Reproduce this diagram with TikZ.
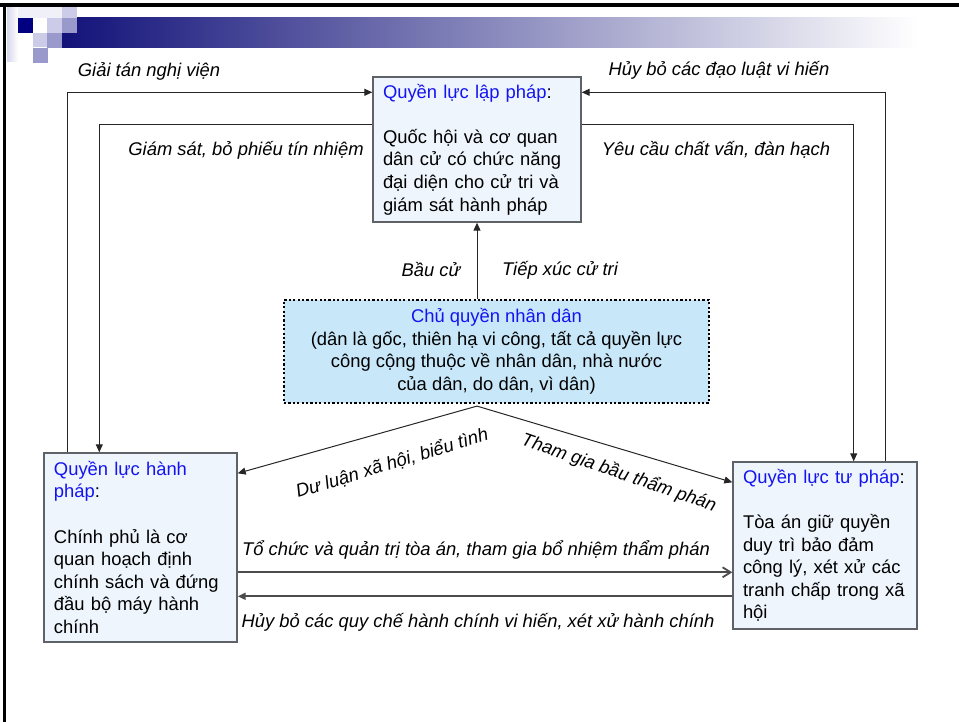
\documentclass[tikz,border=0pt]{standalone}
\usepackage{fontspec}
\setmainfont{Liberation Sans}
\usetikzlibrary{arrows.meta}

\definecolor{boxfill}{HTML}{EEF5FC}
\definecolor{peoplefill}{HTML}{C8E8FA}
\definecolor{boxline}{HTML}{5F6368}
\definecolor{titleblue}{HTML}{1414F0}
\definecolor{barnavy}{HTML}{12127A}
\definecolor{barmid}{HTML}{9696B2}
\definecolor{sqlight}{HTML}{CCCCE8}
\definecolor{sqmid}{HTML}{9999CC}
\definecolor{sqdark}{HTML}{000080}

\tikzstyle{power} = [rectangle, draw=boxline, line width=0.7pt, fill=boxfill, align=left, inner xsep=5pt, inner ysep=2pt, font=\fontsize{9.2}{11.3}\selectfont]
\tikzstyle{people-box} = [rectangle, draw=black, line width=1.1pt, dash pattern=on 1.1pt off 1.1pt, fill=peoplefill, align=center, font=\fontsize{9.2}{11.3}\selectfont]
\tikzstyle{lbl} = [inner sep=0pt, font=\itshape\fontsize{9.2}{11.3}\selectfont]
\tikzstyle{arrow} = [line width=0.5pt, draw=black!85, ->, >={Triangle[length=4pt,width=3.5pt]}]
\tikzstyle{arrow-thick} = [line width=0.9pt, draw=black!70, ->, >={Triangle[length=4pt,width=3.5pt]}]
\tikzstyle{arrow-open} = [line width=0.9pt, draw=black!70, ->, >={Straight Barb[length=4pt,width=5pt]}]

\begin{document}
\begin{tikzpicture}[x=0.5pt, y=-0.5pt]
  \useasboundingbox (0,0) rectangle (959,722);

  % slide header
  \shade [left color=sqlight!80, right color=white] (7,7) rectangle (18,62);
  \fill [sqlight!30] (18,7) rectangle (62,18);
  \shade [left color=barnavy, middle color=barmid, right color=white] (62,18) rectangle (918,48);
  \fill [sqdark] (18,18) rectangle (33,33);
  \fill [sqlight] (47,18) rectangle (62,33);
  \fill [sqlight] (62,7) rectangle (77,18);
  \fill [sqmid] (62,18) rectangle (77,33);
  \fill [sqlight] (33,33) rectangle (47,47);
  \fill [sqmid] (47,33) rectangle (62,48);
  \fill [sqmid] (33,48) rectangle (48,63);
  \draw [line width=1.7pt] (0,5) -- (959,5);
  \draw [line width=1.7pt] (4.3,5) -- (4.3,722);

  \node (leg_power) [power, text width=94pt, minimum height=72.5pt] at (477,149.5) {\textcolor{titleblue}{Quyền lực lập pháp}:\\~\\Quốc hội và cơ quan\\dân cử có chức năng\\đại diện cho cử tri và\\giám sát hành pháp};
  \node (exec_power) [power, text width=86.5pt, minimum height=94.5pt] at (140.5,547.5) {\textcolor{titleblue}{Quyền lực hành}\\\textcolor{titleblue}{pháp}:\\~\\Chính phủ là cơ\\quan hoạch định\\chính sách và đứng\\đầu bộ máy hành\\chính};
  \node (jud_power) [power, text width=82pt, minimum height=83.5pt] at (825,545.5) {\textcolor{titleblue}{Quyền lực tư pháp}:\\~\\Tòa án giữ quyền\\duy trì bảo đảm\\công lý, xét xử các\\tranh chấp trong xã\\hội};
  \node (people) [people-box, minimum width=212.5pt, minimum height=51.5pt] at (496.5,351.5) {\textcolor{titleblue}{Chủ quyền nhân dân}\\(dân là gốc, thiên hạ vi công, tất cả quyền lực\\công cộng thuộc về nhân dân, nhà nước\\của dân, do dân, vì dân)};
  \coordinate (fork) at ([yshift=-1pt]people.south -| leg_power.south);

  \node (dissolve) [lbl] at (149,71) {Giải tán nghị viện};
  \node (oversee) [lbl] at (246,150) {Giám sát, bỏ phiếu tín nhiệm};
  \node (annul_laws) [lbl] at (719,70) {Hủy bỏ các đạo luật vi hiến};
  \node (question) [lbl] at (716,150) {Yêu cầu chất vấn, đàn hạch};
  \node (elect) [lbl] at (431,270) {Bầu cử};
  \node (contact) [lbl] at (560,270) {Tiếp xúc cử tri};
  \node (opinion) [lbl, rotate=17] at (392,463) {Dư luận xã hội, biểu tình};
  \node (elect_judges) [lbl, rotate=-19] at (619,473) {Tham gia bầu thẩm phán};
  \node (organize) [lbl] at (476,550) {Tổ chức và quản trị tòa án, tham gia bổ nhiệm thẩm phán};
  \node (annul_rules) [lbl] at (478,622) {Hủy bỏ các quy chế hành chính vi hiến, xét xử hành chính};

  \draw [arrow] ([xshift=12pt]exec_power.north west) |- ([yshift=-8pt]leg_power.north west);
  \draw [arrow] ([yshift=-24pt]leg_power.north west) -| ([xshift=28pt]exec_power.north west);
  \draw [arrow] ([xshift=-16pt]jud_power.north east) |- ([yshift=-8pt]leg_power.north east);
  \draw [arrow] ([yshift=-24pt]leg_power.north east) -| ([xshift=-32pt]jud_power.north east);
  \draw [arrow] (people.north -| leg_power.south) -- (leg_power.south);
  \draw [arrow] (fork) -- ([yshift=-10.5pt]exec_power.north east);
  \draw [arrow] (fork) -- ([yshift=-10.5pt]jud_power.north west);
  \draw [arrow-open] ([yshift=-60pt]exec_power.north east) -- ([yshift=-60pt]exec_power.north east -| jud_power.west);
  \draw [arrow-thick] ([yshift=-72pt]exec_power.north east -| jud_power.west) -- ([yshift=-72pt]exec_power.north east);
\end{tikzpicture}
\end{document}
